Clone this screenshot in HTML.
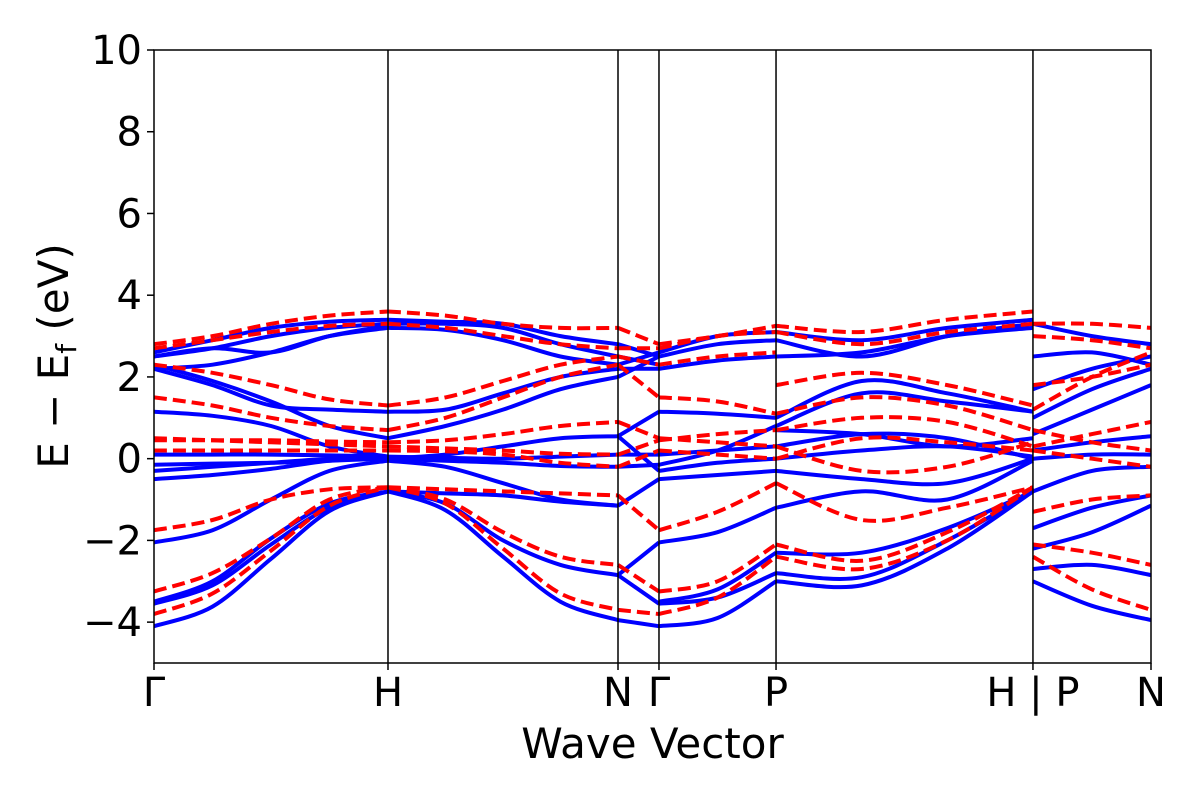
<!DOCTYPE html>
<html><head><meta charset="utf-8"><style>
body{margin:0;background:#fff;}
svg text{font-family:"DejaVu Sans","Liberation Sans",sans-serif;fill:#000;}
</style></head><body>
<svg id="chart" width="1200" height="800" viewBox="0 0 1200 800" xmlns="http://www.w3.org/2000/svg">
<g id="bands"></g>
<g id="axes"></g>
</svg>
<script>
const yTicks=[10,8,6,4,2,0,-2,-4];
const kLabels=["Γ","H","N","Γ","P","H | P","N"];
const kPos=[0,1,2,3,4,5,6];
const segBounds=[0,0.2347,0.4654,0.5065,0.6239,0.8816,1.0];
const blueSeg0=[[-4.1,-3.62,-2.45,-1.28,-0.8],[-3.55,-3.1,-2.1,-1.2,-0.8],[-3.5,-3.0,-1.95,-1.1,-0.8],[-2.05,-1.75,-1.0,-0.3,-0.05],[-0.5,-0.4,-0.25,-0.05,0],[-0.3,-0.2,-0.1,0,0.05],[0.1,0.1,0.1,0.08,0.05],[-0.15,-0.12,-0.1,-0.05,0],[1.15,1.05,0.8,0.3,0.05],[2.2,1.8,1.3,1.2,1.15],[2.3,1.9,1.4,0.8,0.5],[2.2,2.3,2.6,3.0,3.2],[2.5,2.7,3.0,3.2,3.3],[2.6,2.9,3.2,3.35,3.4],[2.5,2.7,2.6,3.0,3.25]];
const blueSeg1=[[-0.8,-1.26,-2.4,-3.5,-3.95],[-0.8,-1.1,-2.0,-2.6,-2.85],[-0.8,-0.85,-0.9,-1.05,-1.15],[0,0.1,0.3,0.5,0.55],[0,-0.05,-0.1,-0.18,-0.2],[0.05,0.02,0,0.05,0.1],[1.15,1.2,1.6,2.0,2.2],[0.5,0.8,1.2,1.7,2.0],[3.2,3.15,2.9,2.5,2.3],[3.3,3.3,3.2,2.8,2.5],[3.4,3.35,3.3,3.0,2.8],[-0.05,-0.2,-0.6,-1.0,-1.15]];
const blueSeg2=[[-3.95,-4.1],[-2.85,-3.55],[-1.15,-0.5],[0.55,-0.3],[-0.2,-0.15],[0.1,0.1],[2.2,2.2],[2.0,2.5],[2.3,2.6],[2.5,2.3],[2.8,2.5],[-2.85,-2.05],[0.55,1.15]];
const blueSeg3=[[-4.1,-3.9,-3.0],[-3.55,-3.4,-2.8],[-3.5,-3.2,-2.3],[-2.05,-1.8,-1.2],[-0.5,-0.4,-0.3],[-0.3,-0.1,0],[0.1,0.2,0.3],[-0.15,0.2,0.8],[1.15,1.1,1.0],[2.2,2.4,2.5],[2.5,2.8,2.9],[2.6,3.0,3.1]];
const blueSeg4=[[-3.0,-3.1,-2.2,-0.8],[-2.8,-2.9,-2.0,-0.8],[-2.3,-2.3,-1.7,-0.8],[-1.2,-0.8,-1.0,-0.05],[-0.3,-0.5,-0.6,0],[0,0.2,0.3,0.05],[0.3,0.6,0.5,0],[0.8,1.6,1.4,1.15],[1.0,1.9,1.6,1.15],[2.5,2.6,3.0,3.2],[2.9,2.5,3.0,3.3],[3.1,2.9,3.2,3.4],[0.7,0.6,0.3,0.5]];
const blueSeg5=[[-3.0,-3.6,-3.95],[-2.7,-2.6,-2.85],[-2.2,-1.8,-1.15],[-1.7,-1.2,-0.9],[-0.8,-0.3,-0.2],[0,0.1,0.1],[0.2,0.4,0.55],[0.6,1.2,1.8],[1.0,1.7,2.2],[2.5,2.6,2.3],[1.7,2.2,2.5],[3.3,3.0,2.8]];
const redSeg0=[[-3.8,-3.3,-2.25,-1.15,-0.7],[-3.25,-2.8,-1.95,-1.0,-0.7],[-1.75,-1.5,-1.0,-0.75,-0.7],[0.5,0.45,0.4,0.35,0.3],[0.45,0.45,0.45,0.42,0.4],[1.5,1.3,1.0,0.8,0.7],[2.3,2.1,1.8,1.45,1.3],[2.8,3.0,3.3,3.5,3.6],[2.7,2.9,3.1,3.25,3.3],[0.2,0.2,0.2,0.2,0.2]];
const redSeg1=[[-0.7,-1.1,-2.2,-3.3,-3.7],[-0.7,-1.0,-1.8,-2.4,-2.6],[-0.7,-0.75,-0.8,-0.85,-0.9],[0.4,0.45,0.6,0.8,0.9],[0.3,0.25,0.2,0.12,0.1],[0.7,1.0,1.5,2.0,2.3],[1.3,1.5,1.9,2.3,2.5],[3.6,3.5,3.3,3.2,3.2],[3.3,3.2,3.0,2.8,2.7],[0.2,0.18,0.1,-0.1,-0.2]];
const redSeg2=[[-3.7,-3.8],[-2.6,-3.25],[-0.9,-1.75],[0.9,0.5],[0.1,0.45],[2.3,1.5],[2.5,2.3],[3.2,2.8],[2.7,2.7],[-0.2,0.2]];
const redSeg3=[[-3.8,-3.4,-2.4],[-3.25,-3.0,-2.1],[-1.75,-1.3,-0.6],[0.5,0.4,0.3],[0.45,0.6,0.7],[1.5,1.4,1.1],[2.3,2.5,2.6],[2.8,3.0,3.25],[2.7,3.0,3.1],[0.2,0.1,0]];
const redSeg4=[[-2.4,-2.7,-2.0,-0.7],[-2.1,-2.5,-1.8,-0.7],[-0.6,-1.5,-1.2,-0.7],[0.3,-0.3,-0.2,0.4],[0.7,1.0,0.9,0.3],[1.1,1.5,1.3,0.7],[1.8,2.1,1.8,1.3],[3.25,3.1,3.4,3.6],[3.1,2.8,3.1,3.3],[0,0.5,0.4,0.2]];
const redSeg5=[[-2.4,-3.2,-3.7],[-2.1,-2.3,-2.6],[-1.3,-1.0,-0.9],[0.3,0.6,0.9],[0.7,0.4,0.2],[1.8,2.0,2.3],[1.2,2.0,2.6],[3.3,3.3,3.2],[3.0,2.9,2.7],[0.2,0.0,-0.2]];
const blueSegs=[blueSeg0,blueSeg1,blueSeg2,blueSeg3,blueSeg4,blueSeg5];
const redSegs=[redSeg0,redSeg1,redSeg2,redSeg3,redSeg4,redSeg5];

const X0=154,X1=1151,Y0=50,Y1=663,YMAX=10,YMIN=-5;
const xs=f=>X0+f*(X1-X0);
const ys=v=>Y0+(YMAX-v)/(YMAX-YMIN)*(Y1-Y0);
const NS="http://www.w3.org/2000/svg";
const bandsG=document.getElementById('bands'),axesG=document.getElementById('axes');
function mk(tag,attrs,parent){const e=document.createElementNS(NS,tag);for(const k in attrs)e.setAttribute(k,attrs[k]);parent.appendChild(e);return e;}
function smoothPath(pts){
  let d="M"+pts[0][0].toFixed(1)+","+pts[0][1].toFixed(1);
  for(let i=0;i<pts.length-1;i++){
    const p0=pts[Math.max(0,i-1)],p1=pts[i],p2=pts[i+1],p3=pts[Math.min(pts.length-1,i+2)];
    const c1=[p1[0]+(p2[0]-p0[0])/6,p1[1]+(p2[1]-p0[1])/6];
    const c2=[p2[0]-(p3[0]-p1[0])/6,p2[1]-(p3[1]-p1[1])/6];
    d+="C"+c1[0].toFixed(1)+","+c1[1].toFixed(1)+" "+c2[0].toFixed(1)+","+c2[1].toFixed(1)+" "+p2[0].toFixed(1)+","+p2[1].toFixed(1);
  }
  return d;
}
const clip=mk('clipPath',{id:'pc'},bandsG);mk('rect',{x:X0,y:Y0,width:X1-X0,height:Y1-Y0},clip);
function drawSet(segs,color,dash,name){
  segs.forEach((seg,s)=>{
    const a=segBounds[s],b=segBounds[s+1];
    seg.forEach(band=>{
      const pts=band.map((v,i)=>[xs(a+(b-a)*i/(band.length-1)),ys(v)]);
      const p=mk('path',{d:smoothPath(pts),fill:'none',stroke:color,'stroke-width':4,'clip-path':'url(#pc)'},bandsG);
      if(dash)p.setAttribute('stroke-dasharray',dash);
      
      
    });
  });
}
drawSet(blueSegs,'#0000ff',null,'blue-band');
drawSet(redSegs,'#ff0000','13,6','red-dashed-band');
segBounds.slice(1,-1).forEach(f=>{
  const l=mk('line',{x1:xs(f),x2:xs(f),y1:Y0,y2:Y1,stroke:'#000','stroke-width':1.5},axesG);
  
  
});
const fr=mk('rect',{x:X0,y:Y0,width:X1-X0,height:Y1-Y0,fill:'none',stroke:'#000','stroke-width':1.5},axesG);


yTicks.forEach(v=>{
  const t=mk('line',{x1:X0-7,x2:X0,y1:ys(v),y2:ys(v),stroke:'#000','stroke-width':1.5},axesG);
  
  
  const tx=mk('text',{x:X0-12,y:ys(v)+14,'text-anchor':'end','font-size':40},axesG);
  tx.textContent=v<0?'\u2212'+(-v):String(v);
  
  
});
kLabels.forEach((lab,i)=>{
  const f=segBounds[kPos[i]];
  const t=mk('line',{x1:xs(f),x2:xs(f),y1:Y1,y2:Y1+7,stroke:'#000','stroke-width':1.5},axesG);
  
  
  const tx=mk('text',{x:xs(f),y:706,'text-anchor':'middle','font-size':40},axesG);
  tx.textContent=lab;
  
  
});
const xl=mk('text',{x:(X0+X1)/2,y:758,'text-anchor':'middle','font-size':42},axesG);
xl.textContent='Wave Vector';


const yl=mk('text',{x:0,y:0,'text-anchor':'middle','font-size':42,transform:'translate(68,356) rotate(-90)'},axesG);
yl.innerHTML='E \u2212 E<tspan font-size="28" dy="8">f</tspan><tspan dy="-8"> (eV)</tspan>';


</script>
</body></html>
